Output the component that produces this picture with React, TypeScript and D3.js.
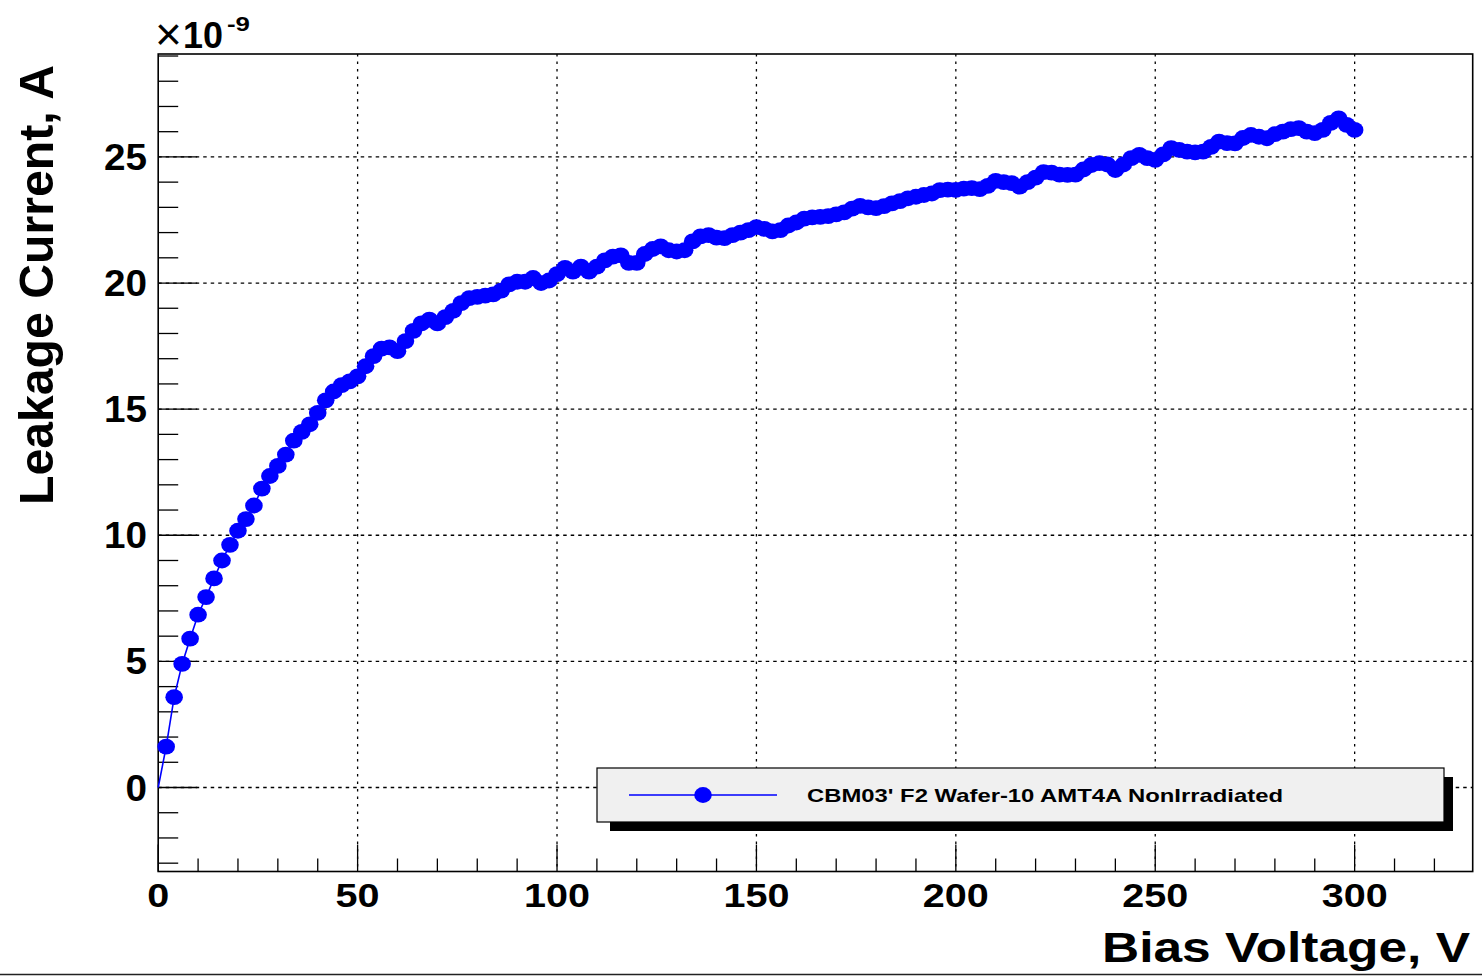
import React from "react";
import * as d3 from "d3";

const voltage = [
  0, 2, 4, 6, 8, 10, 12, 14, 16, 18, 20, 22, 24, 26, 28, 30, 32, 34, 36, 38,
  40, 42, 44, 46, 48, 50, 52, 54, 56, 58, 60, 62, 64, 66, 68, 70, 72, 74, 76, 78,
  80, 82, 84, 86, 88, 90, 92, 94, 96, 98, 100, 102, 104, 106, 108, 110, 112, 114, 116, 118,
  120, 122, 124, 126, 128, 130, 132, 134, 136, 138, 140, 142, 144, 146, 148, 150, 152, 154, 156, 158,
  160, 162, 164, 166, 168, 170, 172, 174, 176, 178, 180, 182, 184, 186, 188, 190, 192, 194, 196, 198,
  200, 202, 204, 206, 208, 210, 212, 214, 216, 218, 220, 222, 224, 226, 228, 230, 232, 234, 236, 238,
  240, 242, 244, 246, 248, 250, 252, 254, 256, 258, 260, 262, 264, 266, 268, 270, 272, 274, 276, 278,
  280, 282, 284, 286, 288, 290, 292, 294, 296, 298, 300,
];

// leakage current in units of 1e-9 A
const current = [
  0, 1.62, 3.58, 4.9, 5.9, 6.85, 7.55, 8.29, 9.0, 9.62, 10.18, 10.64, 11.18, 11.85, 12.35, 12.75, 13.2, 13.75, 14.1, 14.4,
  14.85, 15.35, 15.7, 15.95, 16.1, 16.3, 16.7, 17.1, 17.4, 17.45, 17.3, 17.7, 18.1, 18.4, 18.55, 18.4, 18.65, 18.9, 19.2, 19.4,
  19.45, 19.5, 19.55, 19.7, 19.95, 20.05, 20.05, 20.2, 20.0, 20.1, 20.35, 20.6, 20.45, 20.65, 20.45, 20.65, 20.9, 21.05, 21.1, 20.8,
  20.8, 21.15, 21.35, 21.45, 21.3, 21.25, 21.3, 21.65, 21.85, 21.9, 21.8, 21.78, 21.9, 22.0, 22.1, 22.22, 22.15, 22.05, 22.1, 22.28,
  22.4, 22.55, 22.6, 22.62, 22.65, 22.72, 22.8, 22.95, 23.06, 23.0, 22.97, 23.05, 23.16, 23.25, 23.36, 23.42, 23.49, 23.55, 23.68, 23.7,
  23.69, 23.74, 23.76, 23.72, 23.85, 24.05, 24.0, 23.96, 23.82, 24.0, 24.18, 24.4, 24.38, 24.3, 24.29, 24.3, 24.5, 24.68, 24.75, 24.7,
  24.48, 24.7, 24.95, 25.08, 24.95, 24.88, 25.1, 25.35, 25.28, 25.21, 25.18, 25.21, 25.4, 25.61, 25.55, 25.54, 25.75, 25.87, 25.8, 25.74,
  25.9, 26.0, 26.1, 26.14, 26.0, 25.94, 26.07, 26.35, 26.53, 26.27, 26.07,
];

const xMajorTicks = [0, 50, 100, 150, 200, 250, 300];
const xMinorTicks = [10, 20, 30, 40, 60, 70, 80, 90, 110, 120, 130, 140, 160, 170, 180, 190, 210, 220, 230, 240, 260, 270, 280, 290, 310, 320];
const yMajorTicks = [0, 5, 10, 15, 20, 25];
const yMinorTicks = [-3, -2, -1, 1, 2, 3, 4, 6, 7, 8, 9, 11, 12, 13, 14, 16, 17, 18, 19, 21, 22, 23, 24, 26, 27, 28, 29];

const xTitle = "Bias Voltage, V";
const yTitle = "Leakage Current, A";
const legendLabel = "CBM03' F2 Wafer-10 AMT4A NonIrradiated";

const W = 1482;
const H = 977;
const FL = 158.2, FR = 1472.7, FT = 54, FB = 871.5;
const BLUE = "#0000ff";
const FONT = "'Liberation Sans', Arial, Helvetica, sans-serif";

export default function App() {
  const x = d3.scaleLinear().domain([0, 329.6]).range([FL, FR]);
  const y = d3.scaleLinear().domain([-3.33, 29.08]).range([FB, FT]);

  const pts = voltage.map((v, i) => ({ v, c: current[i] }));
  const line = d3
    .line<{ v: number; c: number }>()
    .x((d) => x(d.v))
    .y((d) => y(d.c));

  const lx = 597, ly = 768, lw = 847, lh = 54;

  return (
    <div style={{ position: "absolute", left: 0, top: 0 }}>
      <svg width={W} height={H} style={{ display: "block", background: "#fff" }} fontFamily={FONT}>
        <rect x={0} y={0} width={W} height={H} fill="#fff" />
        {/* grid */}
        <g stroke="#000" strokeWidth={1.3}>
          {xMajorTicks.filter((t) => t > 0).map((t) => (
            <line key={"gx" + t} x1={x(t)} x2={x(t)} y1={FT} y2={FB} strokeDasharray="2.5,5" />
          ))}
          {yMajorTicks.map((t) => (
            <line key={"gy" + t} x1={FL} x2={FR} y1={y(t)} y2={y(t)} strokeDasharray="3.5,4" />
          ))}
        </g>
        {/* ticks */}
        <g stroke="#000" strokeWidth={1.3}>
          {xMajorTicks.map((t) => (
            <line key={"xM" + t} x1={x(t)} x2={x(t)} y1={FB} y2={FB - 27} />
          ))}
          {xMinorTicks.map((t) => (
            <line key={"xm" + t} x1={x(t)} x2={x(t)} y1={FB} y2={FB - 13} />
          ))}
          {yMajorTicks.map((t) => (
            <line key={"yM" + t} x1={FL} x2={FL + 39} y1={y(t)} y2={y(t)} />
          ))}
          {yMinorTicks.map((t) => (
            <line key={"ym" + t} x1={FL} x2={FL + 20} y1={y(t)} y2={y(t)} />
          ))}
        </g>
        {/* frame */}
        <rect x={FL} y={FT} width={FR - FL} height={FB - FT} fill="none" stroke="#000" strokeWidth={1.6} />
        {/* data */}
        <path d={line(pts) || ""} fill="none" stroke={BLUE} strokeWidth={1.6} />
        <g fill={BLUE}>
          {pts.filter((d) => d.v > 0).map((d) => (
            <ellipse key={"p" + d.v} cx={x(d.v)} cy={y(d.c)} rx={8.8} ry={7.9} />
          ))}
        </g>
        {/* legend */}
        <rect x={lx + 13} y={ly + 9} width={lw - 4} height={lh} fill="#000" />
        <rect x={lx} y={ly} width={lw} height={lh} fill="#f0f0f0" stroke="#000" strokeWidth={1.2} />
        <line x1={629} x2={777} y1={ly + 27} y2={ly + 27} stroke={BLUE} strokeWidth={1.5} />
        <ellipse cx={703} cy={ly + 27} rx={8.8} ry={7.9} fill={BLUE} />
        <text x={807} y={ly + 34} fontSize={19} fontWeight="bold" textLength={476} lengthAdjust="spacingAndGlyphs">
          {legendLabel}
        </text>
        {/* tick labels */}
        <g fontWeight="bold" fontSize={33} textAnchor="middle">
          {xMajorTicks.map((t) => (
            <text key={"xl" + t} x={x(t)} y={907} textLength={String(t).length * 22} lengthAdjust="spacingAndGlyphs">
              {t}
            </text>
          ))}
        </g>
        <g fontWeight="bold" fontSize={37} textAnchor="end">
          {yMajorTicks.map((t) => (
            <text key={"yl" + t} x={147} y={y(t) + 13} textLength={String(t).length * 21.5} lengthAdjust="spacingAndGlyphs">
              {t}
            </text>
          ))}
        </g>
        {/* exponent */}
        <text x={155} y={50} fontSize={46}>×</text>
        <text x={183} y={48} fontSize={37} fontWeight="bold" textLength={40} lengthAdjust="spacingAndGlyphs">10</text>
        <text x={227} y={31} fontSize={21} fontWeight="bold" textLength={23} lengthAdjust="spacingAndGlyphs">-9</text>
        {/* axis titles */}
        <text x={1470} y={962} fontSize={42} fontWeight="bold" textAnchor="end" textLength={368} lengthAdjust="spacingAndGlyphs">
          {xTitle}
        </text>
        <text
          transform="translate(53,505) rotate(-90)"
          x={0}
          y={0}
          fontSize={48}
          fontWeight="bold"
          textLength={440}
          lengthAdjust="spacingAndGlyphs"
        >
          {yTitle}
        </text>
        <line x1={0} x2={W} y1={974.5} y2={974.5} stroke="#222" strokeWidth={1.5} />
      </svg>
    </div>
  );
}
